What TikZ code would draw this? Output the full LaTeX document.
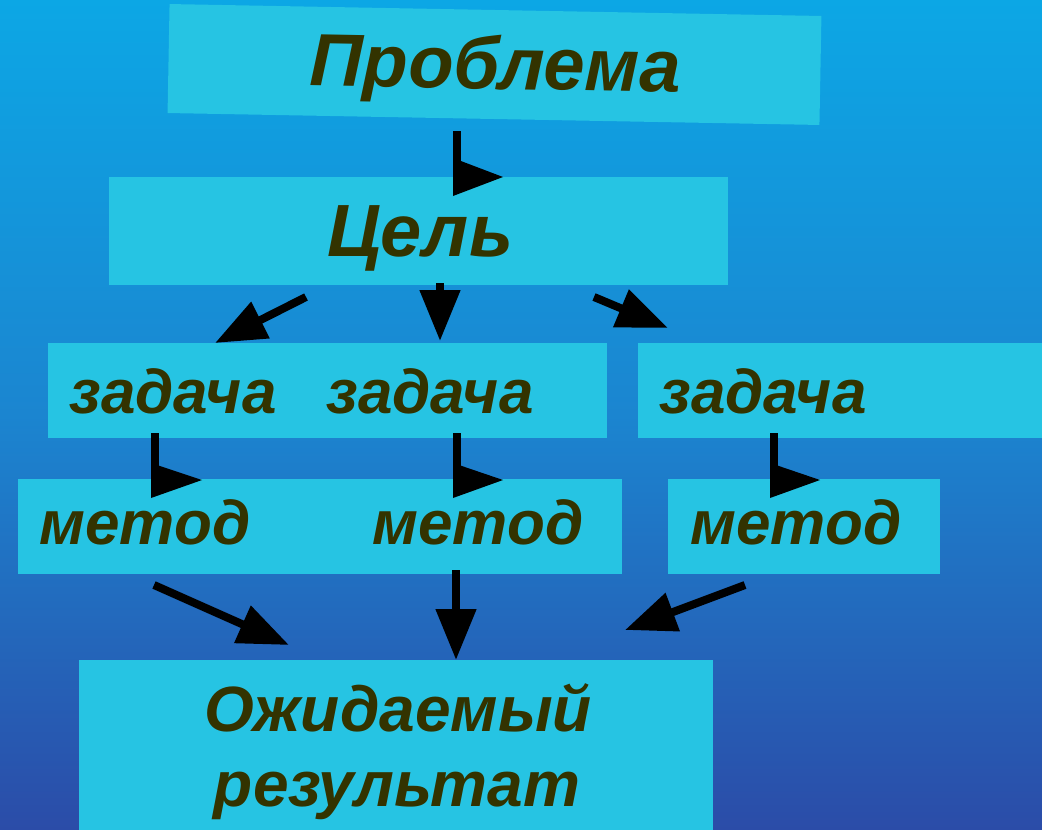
\documentclass[tikz,border=0pt]{standalone}
\usepackage{fontspec}
\setmainfont{Liberation Sans}
\usetikzlibrary{arrows.meta}
\definecolor{bgtop}{HTML}{0CA7E5}
\definecolor{bgmid}{HTML}{1B85D0}
\definecolor{bgbot}{HTML}{2B4CA8}
\definecolor{boxc}{HTML}{26C4E3}
\definecolor{txt}{HTML}{333300}
\begin{document}
\begin{tikzpicture}[x=1pt,y=-1pt,
  box/.style={fill=boxc, draw=none, inner sep=0pt, outer sep=0pt, anchor=north west},
  lbl/.style={text=txt, inner sep=0pt, anchor=base, font=\fontsize{#1}{#1}\selectfont\bfseries\itshape},
  lbl/.default=62,
  arr/.style={draw=black, line width=8pt, -{Triangle[length=51pt,width=39pt]}},
  stem/.style={draw=black, line width=8pt},
  head/.style={fill=black},
]
\useasboundingbox (0,0) rectangle (1042,830);
\shade[top color=bgtop, bottom color=bgbot, middle color=bgmid] (0,0) rectangle (1042,830);

% boxes
\node[box, anchor=center, rotate=-1.05, minimum width=652pt, minimum height=109pt] (prob) at (494.5,64.5) {};
\node[box, minimum width=619pt, minimum height=108pt] (cel) at (109,177) {};
\node[box, minimum width=559pt, minimum height=95pt] (zad12) at (48,343) {};
\node[box, minimum width=404pt, minimum height=95pt] (zad3) at (638,343) {};
\node[box, minimum width=604pt, minimum height=95pt] (met12) at (18,479) {};
\node[box, minimum width=272pt, minimum height=95pt] (met3) at (668,479) {};
\node[box, minimum width=634pt, minimum height=170pt] (res) at (79,660) {};

% texts
\node[lbl=74, rotate=-1.05] (tprob) at (495,89) {Проблема};
\node[lbl=74] (tcel) at (420,256) {Цель};
\node[lbl] (tz1) at (173,413) {задача};
\node[lbl] (tz2) at (430,413) {задача};
\node[lbl] (tz3) at (763,413) {задача};
\node[lbl] (tm1) at (145,544) {метод};
\node[lbl] (tm2) at (478,544) {метод};
\node[lbl] (tm3) at (796,544) {метод};
\node[lbl=64] (tr1) at (398,731) {Ожидаемый};
\node[lbl=64] (tr2) at (397,806) {результат};

% bent arrows
\coordinate (s1a) at (457,131); \coordinate (s1b) at (457,170);
\draw[stem] (s1a) -- (s1b);
\fill[head] (453,158) -- (503,177) -- (453,196) -- cycle;
\coordinate (s2a) at (154.5,433); \coordinate (s2b) at (154.5,470);
\draw[stem] (s2a) -- (s2b);
\fill[head] (151,463) -- (202,480) -- (151,498) -- cycle;
\coordinate (s3a) at (456.5,433); \coordinate (s3b) at (456.5,470);
\draw[stem] (s3a) -- (s3b);
\fill[head] (453,463) -- (503,480) -- (453,498) -- cycle;
\coordinate (s4a) at (773.5,433); \coordinate (s4b) at (773.5,470);
\draw[stem] (s4a) -- (s4b);
\fill[head] (770,463) -- (820,480) -- (770,498) -- cycle;

% straight arrows
\coordinate (a5s) at (306,297); \coordinate (a5e) at (215,343);
\draw[arr] (a5s) -- (a5e);
\coordinate (a6s) at (440,283); \coordinate (a6e) at (440,341);
\draw[arr] (a6s) -- (a6e);
\coordinate (a7s) at (594,297); \coordinate (a7e) at (668,328);
\draw[arr] (a7s) -- (a7e);
\coordinate (a8s) at (154,585); \coordinate (a8e) at (289,645);
\draw[arr] (a8s) -- (a8e);
\coordinate (a9s) at (456,570); \coordinate (a9e) at (456,660);
\draw[arr] (a9s) -- (a9e);
\coordinate (a10s) at (745,585); \coordinate (a10e) at (625,630);
\draw[arr] (a10s) -- (a10e);
\end{tikzpicture}
\end{document}
